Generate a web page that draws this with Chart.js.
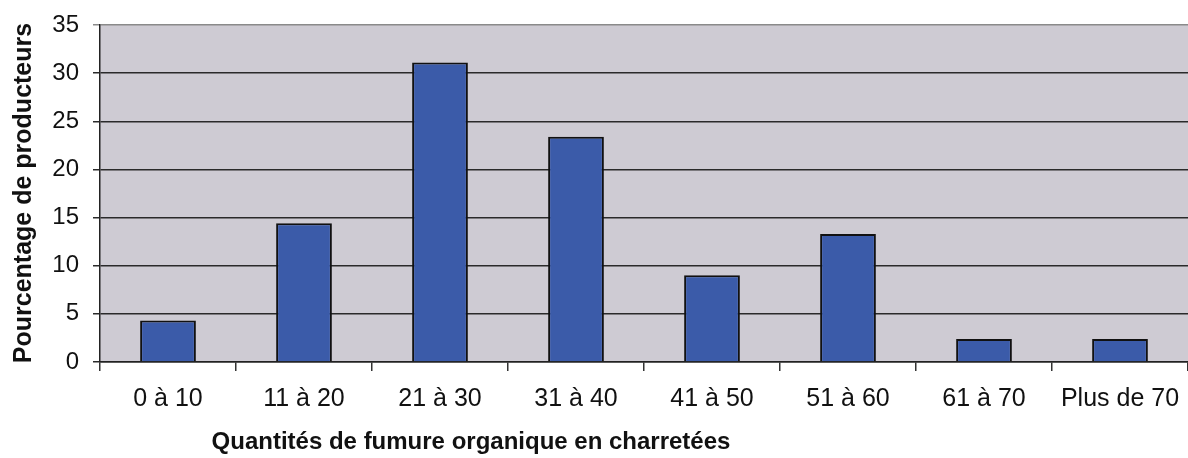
<!DOCTYPE html>
<html>
<head>
<meta charset="utf-8">
<script src="https://cdn.jsdelivr.net/npm/chart.js@4.4.1/dist/chart.umd.min.js"></script>
<style>
  html, body { margin: 0; padding: 0; background: #ffffff; }
  #wrap { width: 1188px; height: 458px; position: relative; }
</style>
</head>
<body>
<div id="wrap"><canvas id="c" width="1188" height="458"></canvas></div>
<script>
const categories = ['0 à 10', '11 à 20', '21 à 30', '31 à 40', '41 à 50', '51 à 60', '61 à 70', 'Plus de 70'];
const percentages = [4.3, 14.4, 31.1, 23.4, 9.0, 13.3, 2.4, 2.4];
const yTickValues = [0, 5, 10, 15, 20, 25, 30, 35];
const yTitle = 'Pourcentage de producteurs';
const xTitle = 'Quantités de fumure organique en charretées';

const FONT = '"Liberation Sans", Arial, Helvetica, sans-serif';

const plotBg = {
  id: 'plotBg',
  beforeDraw(chart) {
    const { ctx, chartArea: a } = chart;
    ctx.save();
    ctx.fillStyle = '#cecbd3';
    ctx.fillRect(a.left, a.top, a.right - a.left, a.bottom - a.top);
    ctx.restore();
  }
};

const axisTitles = {
  id: 'axisTitles',
  afterDraw(chart) {
    const { ctx } = chart;
    ctx.save();
    ctx.fillStyle = '#111111';
    ctx.textAlign = 'center';
    ctx.textBaseline = 'middle';
    ctx.font = 'bold 25px ' + FONT;
    ctx.translate(24, 193);
    ctx.rotate(-Math.PI / 2);
    ctx.fillText(yTitle, 0, 0);
    ctx.restore();
    ctx.save();
    ctx.fillStyle = '#111111';
    ctx.textAlign = 'center';
    ctx.textBaseline = 'middle';
    ctx.font = 'bold 24px ' + FONT;
    ctx.fillText(xTitle, 471, 442);
    ctx.restore();
  }
};

new Chart(document.getElementById('c'), {
  type: 'bar',
  data: {
    labels: categories,
    datasets: [{
      data: percentages,
      backgroundColor: '#3b5ba9',
      borderColor: '#111111',
      borderWidth: 2,
      barPercentage: 0.41,
      categoryPercentage: 1.0
    }]
  },
  options: {
    responsive: false,
    animation: false,
    layout: { padding: { left: 0, right: 0, top: 25, bottom: 0 } },
    plugins: { legend: { display: false }, tooltip: { enabled: false } },
    scales: {
      x: {
        grid: {
          offset: true,
          drawOnChartArea: false,
          drawTicks: true,
          tickLength: 9,
          color: '#333333',
          lineWidth: 1.5
        },
        border: { display: true, color: '#222222', width: 1.5 },
        ticks: {
          color: '#111111',
          font: { family: FONT, size: 25 },
          padding: 13,
          maxRotation: 0,
          autoSkip: false
        },
        afterFit(scale) { scale.height = 96; scale.paddingLeft = 0; scale.paddingRight = 0; }
      },
      y: {
        min: yTickValues[0],
        max: yTickValues[yTickValues.length - 1],
        afterBuildTicks(scale) { scale.ticks = yTickValues.map(v => ({ value: v })); },
        grid: {
          color: (c) => (c.tick && c.tick.value === 35 ? '#8a8a8a' : '#2a2a2a'),
          lineWidth: 1.5,
          drawTicks: true,
          tickLength: 7
        },
        border: { display: true, color: '#222222', width: 1.5 },
        ticks: {
          color: '#111111',
          font: { family: FONT, size: 24 },
          padding: 14
        },
        afterFit(scale) { scale.width = 100; scale.paddingTop = 0; scale.paddingBottom = 0; }
      }
    }
  },
  plugins: [plotBg, axisTitles]
});
</script>
</body>
</html>
